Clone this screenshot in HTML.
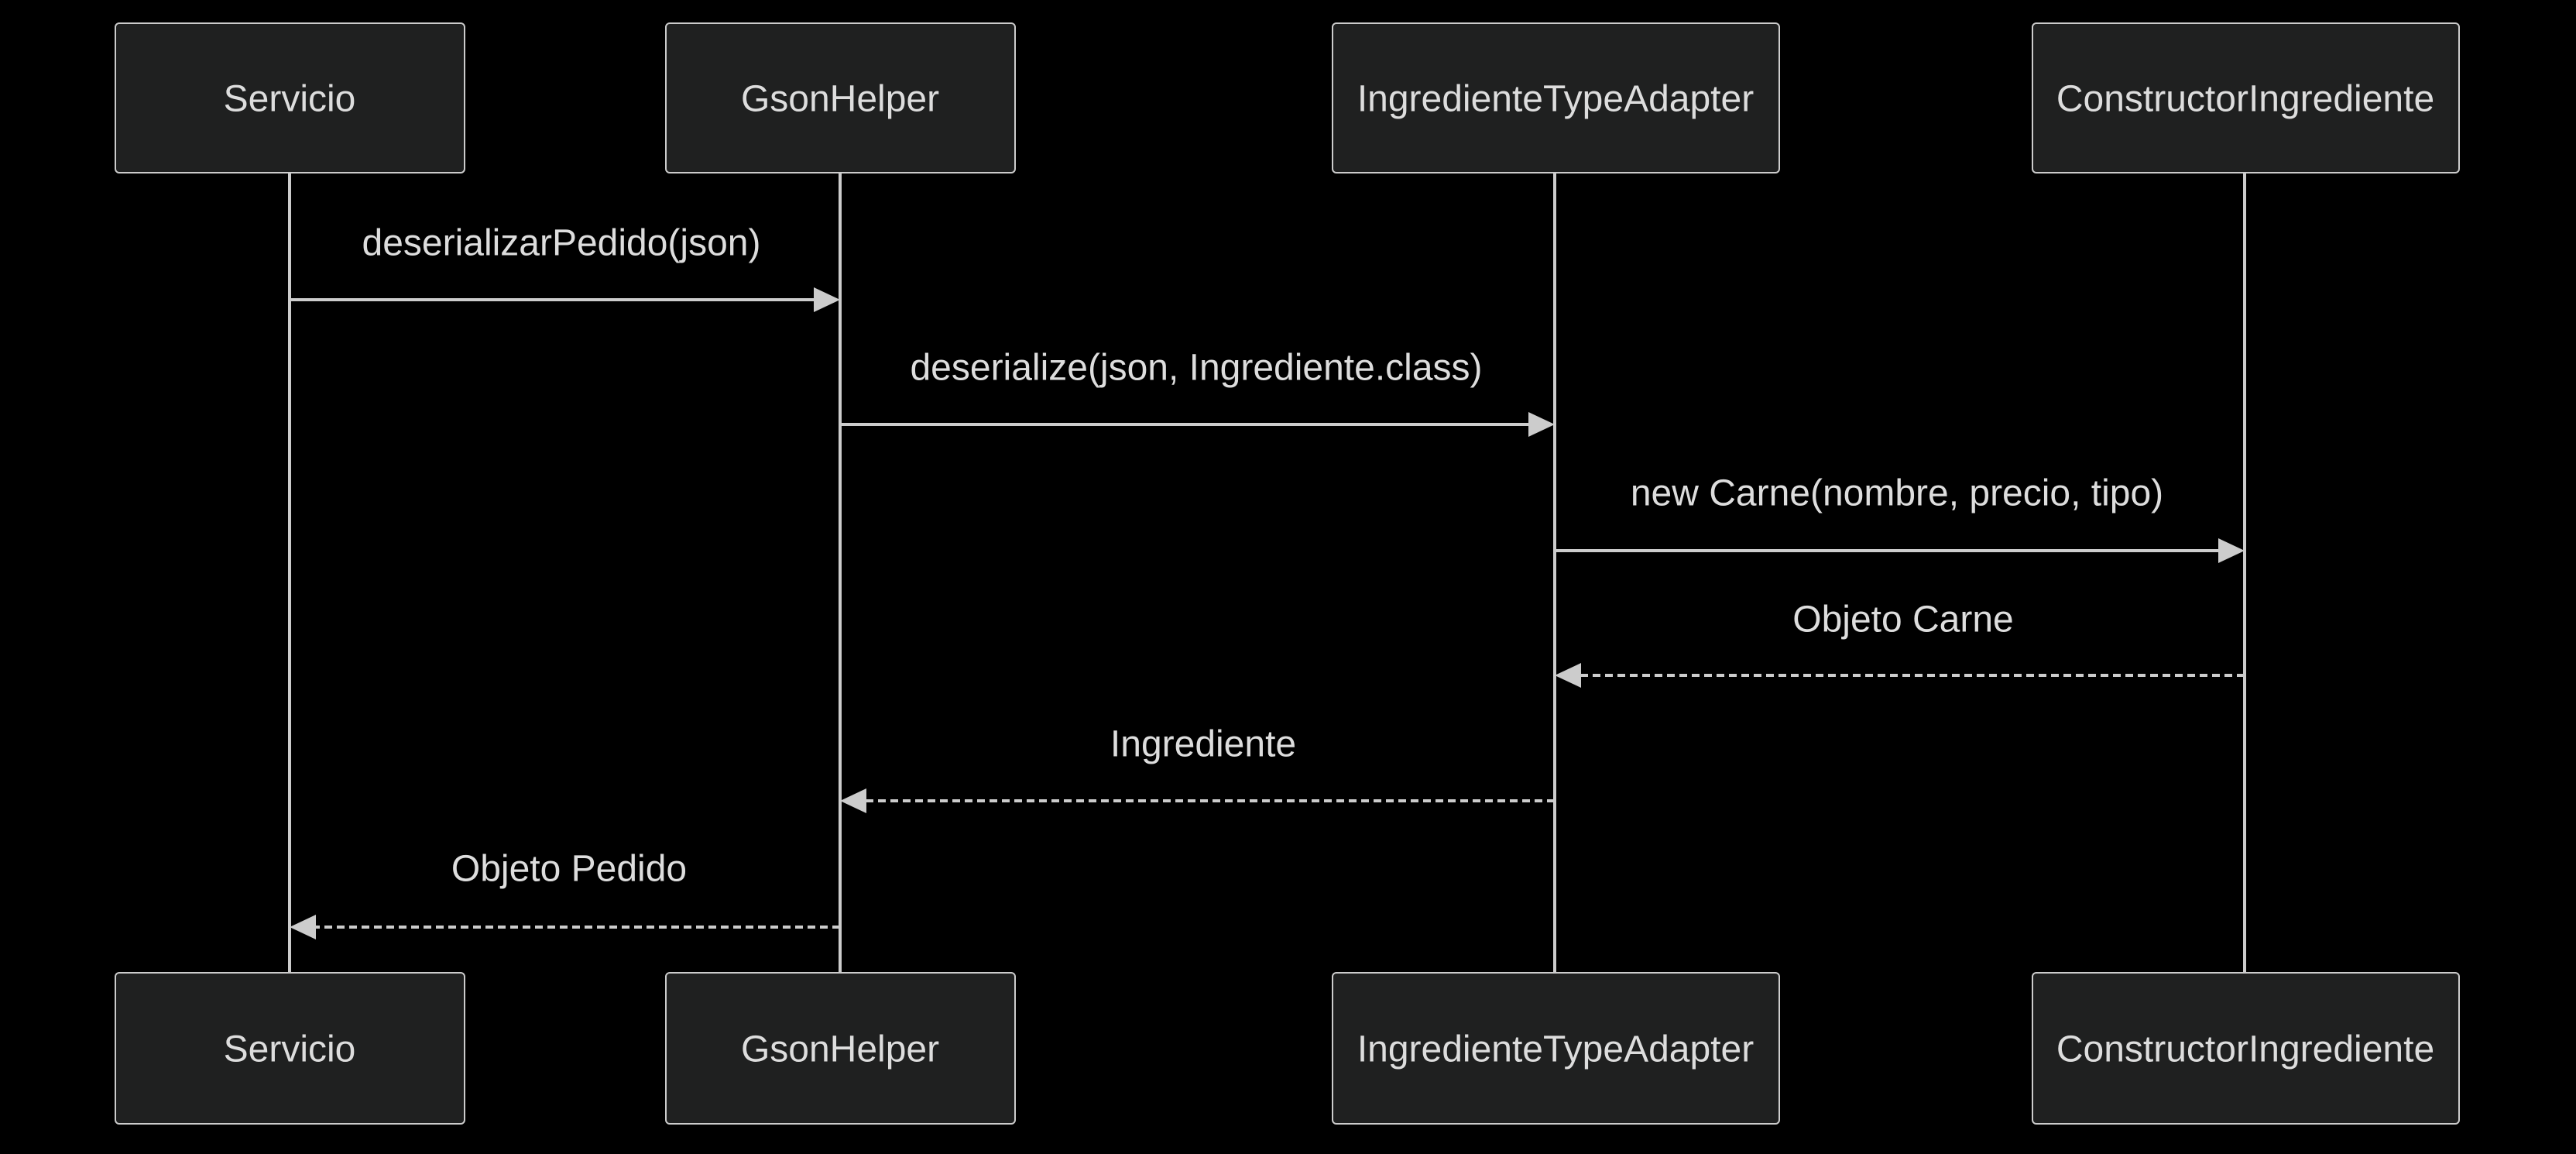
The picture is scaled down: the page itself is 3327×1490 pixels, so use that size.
<!DOCTYPE html>
<html><head><meta charset="utf-8"><style>html,body{margin:0;background:#000}</style></head>
<body>
<svg width="3327" height="1485" xmlns="http://www.w3.org/2000/svg" font-family="Liberation Sans, sans-serif">
<rect width="3327" height="1485" fill="#000"/>
<g stroke="#ccc" stroke-width="4">
<line x1="374" y1="223" x2="374" y2="1256"/>
<line x1="1085" y1="223" x2="1085" y2="1256"/>
<line x1="2008" y1="223" x2="2008" y2="1256"/>
<line x1="2899" y1="223" x2="2899" y2="1256"/>
</g>
<g fill="#1f2020" stroke="#ccc" stroke-width="2">
<rect x="149" y="30" width="451" height="193" rx="5"/>
<rect x="860" y="30" width="451" height="193" rx="5"/>
<rect x="1721" y="30" width="577" height="193" rx="5"/>
<rect x="2625" y="30" width="551" height="193" rx="5"/>
<rect x="149" y="1256" width="451" height="195" rx="5"/>
<rect x="860" y="1256" width="451" height="195" rx="5"/>
<rect x="1721" y="1256" width="577" height="195" rx="5"/>
<rect x="2625" y="1256" width="551" height="195" rx="5"/>
</g>
<g fill="#ddd" font-size="48" text-anchor="middle" dominant-baseline="central">
<text x="374" y="128">Servicio</text>
<text x="1085" y="128">GsonHelper</text>
<text x="2009" y="128">IngredienteTypeAdapter</text>
<text x="2900" y="128">ConstructorIngrediente</text>
<text x="374" y="1355">Servicio</text>
<text x="1085" y="1355">GsonHelper</text>
<text x="2009" y="1355">IngredienteTypeAdapter</text>
<text x="2900" y="1355">ConstructorIngrediente</text>
<text x="725" y="314">deserializarPedido(json)</text>
<text x="1545" y="475">deserialize(json, Ingrediente.class)</text>
<text x="2450" y="637">new Carne(nombre, precio, tipo)</text>
<text x="2458" y="800">Objeto Carne</text>
<text x="1554" y="961">Ingrediente</text>
<text x="735" y="1122">Objeto Pedido</text>
</g>
<g stroke="#ccc" stroke-width="4">
<line x1="374" y1="387" x2="1055" y2="387"/>
<line x1="1085" y1="548" x2="1978" y2="548"/>
<line x1="2008" y1="711" x2="2869" y2="711"/>
<line x1="2899" y1="872" x2="2036" y2="872" stroke-dasharray="10,6"/>
<line x1="2008" y1="1034" x2="1113" y2="1034" stroke-dasharray="10,6"/>
<line x1="1085" y1="1197" x2="402" y2="1197" stroke-dasharray="10,6"/>
</g>
<g fill="#ccc">
<polygon points="1085,387 1051,371 1051,403"/>
<polygon points="2008,548 1974,532 1974,564"/>
<polygon points="2899,711 2865,695 2865,727"/>
<polygon points="2008,872 2042,856 2042,888"/>
<polygon points="1085,1034 1119,1018 1119,1050"/>
<polygon points="374,1197 408,1181 408,1213"/>
</g>
</svg>
</body></html>
